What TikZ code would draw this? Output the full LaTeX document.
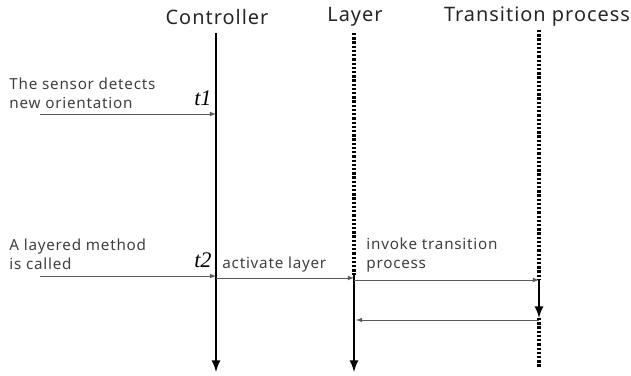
\documentclass[tikz,border=0pt]{standalone}
\usepackage{fontspec}
\setmainfont{Noto Sans}[LetterSpace=5]
\newfontfamily\tfont{Liberation Serif}
\usepackage{tikz}
\usetikzlibrary{arrows,positioning,calc}

\tikzset{
  lifeline/.style={line width=2.4pt},
  idleline/.style={line width=2.6pt, dash pattern=on 2pt off 1.6pt},
  msg/.style={draw=black!65, line width=0.8pt, -latex},
  lbl/.style={text=black!75, font=\fontsize{13}{16.5}\selectfont, align=left, inner sep=1pt},
  head/.style={text=black!85, font=\fontsize{17}{19}\selectfont, inner sep=1pt},
  tmark/.style={font=\tfont\itshape\fontsize{19}{20}\selectfont, inner sep=1pt}
}

\begin{document}
\begin{tikzpicture}[x=0.03cm,y=-0.03cm]
  \useasboundingbox (0,0) rectangle (631,376);

  % heads
  \node[head] at (217,17) (ctrl) {Controller};
  \node[head] at (355,17) (layer) {Layer};
  \node[head] at (537,17) (trans) {Transition process};

  % points on the lifelines
  \coordinate (ctrltop) at (216,33);
  \coordinate (ctrlend) at (216,372);
  \coordinate (c1) at (216,114);
  \coordinate (c2) at (216,276);
  \coordinate (c3) at (216,278);
  \coordinate (layertop) at (354,33);
  \coordinate (layeron) at (354,275);
  \coordinate (layerend) at (354,372);
  \coordinate (l1) at (354,278);
  \coordinate (l2) at (354,280);
  \coordinate (l3) at (356,320);
  \coordinate (transtop) at (539,30);
  \coordinate (transon) at (539,280);
  \coordinate (transoff) at (539,318);
  \coordinate (transend) at (539,368);
  \coordinate (p1) at (539,280);
  \coordinate (p2) at (539,320);
  \coordinate (in1) at (40,114);
  \coordinate (in2) at (40,276);

  % lifelines
  \draw[lifeline,-latex] (ctrltop) -- (ctrlend);
  \draw[idleline] (layertop) -- (layeron);
  \draw[lifeline,-latex] (layeron) -- (layerend);
  \draw[idleline] (transtop) -- (transon);
  \draw[lifeline,-latex] (transon) -- (transoff);
  \draw[idleline] (transoff) -- (transend);

  % messages
  \draw[msg] (in1) -- (c1);
  \draw[msg] (in2) -- (c2);
  \draw[msg] (c3) -- (l1);
  \draw[msg] (l2) -- (p1);
  \draw[msg] (p2) -- (l3);

  % labels
  \node[lbl, anchor=south west] at (8,110) (ev1) {The sensor detects\\new orientation};
  \node[lbl, anchor=south west] at (8,271) (ev2) {A layered method\\is called};
  \node[tmark, anchor=south east] at (213,107) (t1) {t1};
  \node[tmark, anchor=south east] at (213,269) (t2) {t2};
  \node[lbl, anchor=south west] at (221,274) (act) {activate layer};
  \node[lbl, anchor=south west] at (365,274) (inv) {invoke transition\\process};
\end{tikzpicture}
\end{document}
